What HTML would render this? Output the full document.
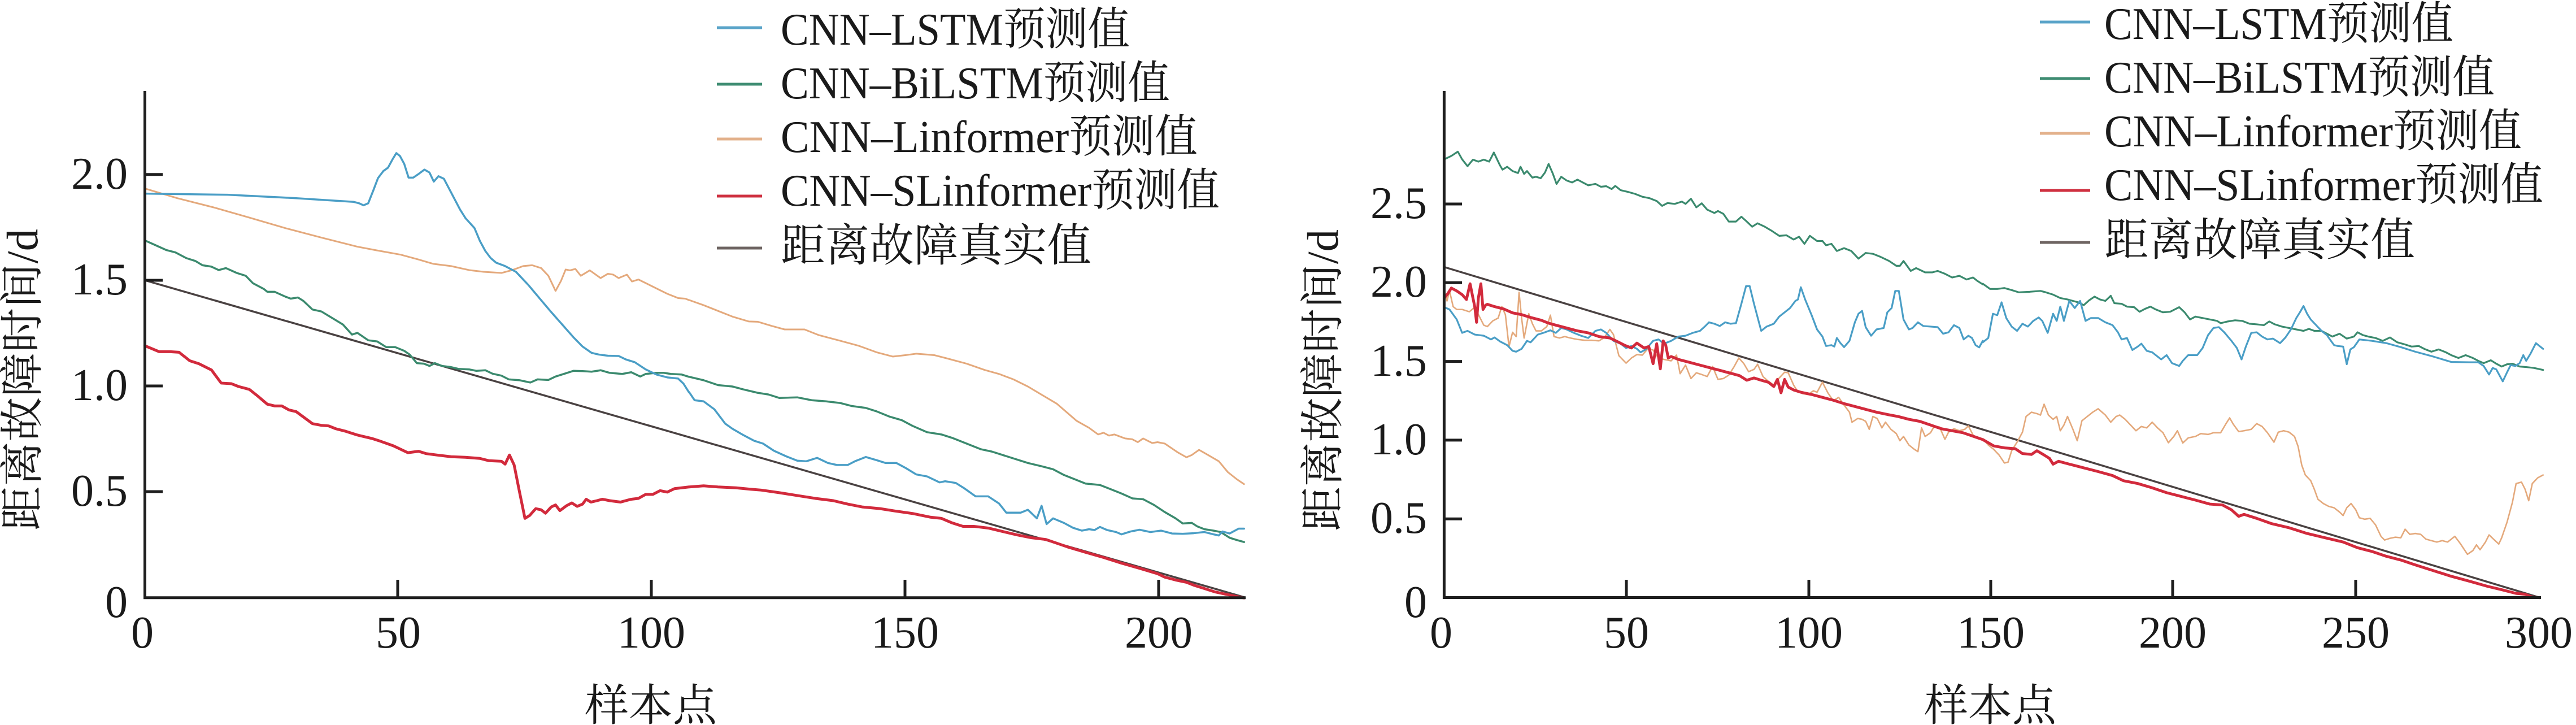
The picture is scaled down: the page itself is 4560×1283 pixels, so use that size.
<!DOCTYPE html>
<html>
<head>
<meta charset="utf-8">
<style>
html,body{margin:0;padding:0;background:#ffffff;}
svg{display:block;}
.t{font-family:"Liberation Serif","Noto Serif CJK SC",serif;fill:#1a1a1a;}
.num{font-size:80px;}
.lg{font-size:80px;}
.cj{font-family:"Liberation Serif","Noto Serif CJK SC",serif;font-size:78px;fill:#1a1a1a;}
.ax{stroke:#1e1e1e;stroke-width:5;fill:none;}
.s{fill:none;stroke-linejoin:round;stroke-linecap:round;}
</style>
</head>
<body>
<svg width="4560" height="1283" viewBox="0 0 4560 1283" xmlns="http://www.w3.org/2000/svg">
<rect x="0" y="0" width="4560" height="1283" fill="#ffffff"/>

<!-- ================= LEFT CHART ================= -->
<!-- true line -->
<line x1="256.5" y1="496" x2="2203" y2="1057" stroke="#4a4242" stroke-width="3.5"/>

<g transform="translate(250,280) scale(0.6378,0.505)">
<polyline class="s" vector-effect="non-scaling-stroke" stroke="#e4a97c" stroke-width="3" points="10,106 100,140 200,172 300,208 400,245 500,278 600,310 650,322 720,338 770,355 810,370 860,378 910,392 950,398 1000,402 1030,392 1060,378 1085,375 1110,385 1130,412 1150,465 1165,430 1178,390 1190,393 1205,388 1220,412 1245,393 1275,420 1295,405 1310,408 1325,420 1348,408 1362,432 1380,425 1420,450 1460,475 1490,490 1510,492 1520,497"/>
<polyline class="s" vector-effect="non-scaling-stroke" stroke="#3b8a6e" stroke-width="3.5" points="10,288 40,305 70,322 95,330 125,350 150,360 170,375 195,380 215,392 235,385 265,402 290,412 310,438 340,458 350,468 370,468 400,485 415,492 435,488 450,500 475,530 500,537 530,560 560,583 585,618 600,612 630,638 655,642 680,662 705,662 730,675 745,688 765,718 785,720 800,728 815,718 835,728 860,732 880,738 910,740 930,745 955,743 975,755 1000,762 1020,775 1050,778 1080,786 1100,775 1130,777 1150,765 1175,755 1200,745 1225,746 1250,748 1275,743 1300,752 1335,756 1360,750 1385,765 1400,756 1430,752 1450,752 1470,756 1500,758 1520,766"/>
<polyline class="s" vector-effect="non-scaling-stroke" stroke="#4a9ec6" stroke-width="3.5" points="10,124 240,128 430,140 590,153 605,158 617,165 630,158 645,110 657,70 672,45 685,33 697,5 708,-18 718,-8 730,20 742,68 755,68 770,55 786,40 800,50 812,82 825,63 840,72 860,120 885,180 900,210 925,245 940,290 955,325 970,350 985,366 1010,378 1040,398 1075,445 1105,490 1135,535 1170,585 1200,628 1225,660 1250,682 1270,688 1295,692 1325,693 1345,705 1370,715 1400,740 1430,758 1460,768 1490,772 1505,790 1520,820"/>
<polyline class="s" vector-effect="non-scaling-stroke" stroke="#d22a3c" stroke-width="5" points="10,657 50,678 80,678 105,680 135,710 160,720 195,742 222,788 250,790 270,800 300,810 320,830 350,862 370,868 390,868 410,882 430,888 475,930 500,936 520,938 540,948 565,956 600,970 640,982 660,990 700,1008 740,1032 770,1027 790,1035 820,1040 860,1046 900,1048 940,1052 965,1060 1000,1062 1010,1072 1022,1040 1035,1075 1050,1170 1065,1262 1078,1252 1095,1228 1110,1232 1122,1244 1138,1222 1150,1215 1162,1235 1180,1218 1195,1208 1210,1220 1225,1212 1235,1195 1248,1205 1265,1200 1280,1195 1300,1200 1330,1205 1360,1195 1380,1192 1400,1178 1420,1178 1440,1165 1460,1170 1480,1158 1500,1155 1520,1152"/>
</g>

<g transform="translate(1220,280) scale(0.6378,0.505)">
<polyline class="s" vector-effect="non-scaling-stroke" stroke="#e4a97c" stroke-width="3" points="0,497 40,515 80,535 120,555 165,572 190,573 230,588 265,600 320,600 360,620 420,640 470,657 520,680 565,695 600,690 630,685 680,690 720,703 770,720 820,742 860,756 900,775 940,800 980,830 1020,860 1075,920 1110,945 1135,968 1150,962 1165,972 1180,968 1210,982 1230,985 1245,995 1260,982 1285,998 1300,995 1320,1000 1355,1030 1380,1048 1395,1040 1415,1022 1440,1040 1470,1062 1495,1100 1520,1125 1540,1142"/>
<polyline class="s" vector-effect="non-scaling-stroke" stroke="#3b8a6e" stroke-width="3.5" points="0,766 40,778 80,795 120,800 150,810 190,822 220,828 250,840 300,838 340,848 380,852 420,858 450,868 490,875 520,887 555,905 590,918 620,938 660,960 700,968 730,980 770,1000 810,1020 840,1028 870,1040 900,1052 940,1068 980,1080 1010,1090 1040,1110 1070,1125 1100,1140 1140,1145 1170,1160 1200,1175 1230,1192 1260,1195 1290,1215 1320,1240 1350,1262 1370,1280 1395,1278 1410,1290 1430,1300 1455,1305 1475,1310 1500,1330 1520,1338 1540,1345"/>
<polyline class="s" vector-effect="non-scaling-stroke" stroke="#4a9ec6" stroke-width="3.5" points="0,820 15,848 40,852 70,880 100,930 120,948 150,970 180,990 205,1000 235,1025 270,1045 300,1060 325,1062 355,1050 385,1068 410,1075 440,1075 460,1062 490,1047 520,1058 545,1068 575,1068 600,1085 630,1108 660,1115 695,1136 710,1132 740,1138 765,1158 795,1185 830,1185 860,1210 880,1242 900,1242 920,1242 940,1232 965,1262 978,1218 992,1282 1010,1262 1040,1278 1065,1295 1090,1305 1110,1300 1125,1303 1140,1292 1160,1303 1185,1310 1200,1318 1225,1308 1250,1302 1280,1310 1310,1305 1340,1315 1370,1316 1400,1314 1430,1310 1455,1318 1470,1322 1480,1308 1500,1315 1525,1298 1540,1298"/>
<polyline class="s" vector-effect="non-scaling-stroke" stroke="#d22a3c" stroke-width="5" points="0,1152 40,1148 80,1152 130,1155 170,1160 200,1163 250,1172 300,1182 350,1192 400,1200 440,1212 480,1222 530,1228 570,1236 620,1245 670,1258 700,1262 730,1278 760,1290 790,1290 830,1296 870,1308 910,1320 950,1330 990,1336 1050,1362 1100,1381 1150,1399 1200,1419 1250,1437 1300,1456 1320,1468 1350,1478 1380,1486 1400,1496 1430,1508 1460,1520 1490,1528 1520,1536 1540,1541"/>
</g>

<!-- left axes -->
<line class="ax" x1="256.5" y1="161" x2="256.5" y2="1060"/>
<line class="ax" x1="254" y1="1057.7" x2="2205" y2="1057.7"/>
<g class="ax">
<line x1="256" y1="308.8" x2="288" y2="308.8"/>
<line x1="256" y1="496" x2="288" y2="496"/>
<line x1="256" y1="683" x2="288" y2="683"/>
<line x1="256" y1="870" x2="288" y2="870"/>
<line x1="704" y1="1057" x2="704" y2="1026"/>
<line x1="1153" y1="1057" x2="1153" y2="1026"/>
<line x1="1602" y1="1057" x2="1602" y2="1026"/>
<line x1="2051" y1="1057" x2="2051" y2="1026"/>
</g>
<g class="t num" text-anchor="end">
<text x="226" y="334">2.0</text>
<text x="226" y="521">1.5</text>
<text x="226" y="708">1.0</text>
<text x="226" y="895">0.5</text>
<text x="226" y="1092">0</text>
</g>
<g class="t num" text-anchor="middle">
<text x="252" y="1146">0</text>
<text x="705" y="1146">50</text>
<text x="1153" y="1146">100</text>
<text x="1602" y="1146">150</text>
<text x="2051" y="1146">200</text>
</g>
<text class="cj" text-anchor="middle" transform="translate(66,672) rotate(-90)" textLength="534" lengthAdjust="spacingAndGlyphs">距离故障时间/d</text>
<text class="cj" x="1152" y="1275" text-anchor="middle">样本点</text>

<!-- left legend -->
<g stroke-width="5">
<line x1="1269" y1="49" x2="1349" y2="49" stroke="#5aa4c9"/>
<line x1="1269" y1="149" x2="1349" y2="149" stroke="#3e8c72"/>
<line x1="1269" y1="246" x2="1349" y2="246" stroke="#e3b18b"/>
<line x1="1269" y1="347" x2="1349" y2="347" stroke="#cf3040"/>
<line x1="1269" y1="439" x2="1349" y2="439" stroke="#6e6462"/>
</g>
<g class="t lg">
<text x="1382" y="79" textLength="618" lengthAdjust="spacingAndGlyphs">CNN–LSTM预测值</text>
<text x="1382" y="174" textLength="689" lengthAdjust="spacingAndGlyphs">CNN–BiLSTM预测值</text>
<text x="1382" y="269" textLength="738" lengthAdjust="spacingAndGlyphs">CNN–Linformer预测值</text>
<text x="1382" y="364" textLength="777" lengthAdjust="spacingAndGlyphs">CNN–SLinformer预测值</text>
<text x="1382" y="462" textLength="550" lengthAdjust="spacingAndGlyphs">距离故障真实值</text>
</g>

<!-- ================= RIGHT CHART ================= -->
<line x1="2556.4" y1="472.5" x2="4494" y2="1057" stroke="#4a4242" stroke-width="3.5"/>

<g transform="translate(2550,280) scale(0.6378,0.505)">
<polyline class="s" vector-effect="non-scaling-stroke" stroke="#3b8a6e" stroke-width="3.2" points="10,4 30,-8 48,-23 60,4 75,28 90,5 105,12 120,5 135,12 148,-20 165,25 172,40 185,30 200,45 215,52 222,30 232,55 240,45 255,68 265,65 278,70 290,50 300,20 312,55 322,90 335,65 350,78 365,85 380,75 395,85 410,95 430,90 445,100 460,98 475,108 485,97 500,112 520,118 540,125 560,135 580,140 600,150 615,167 630,157 650,160 670,152 680,160 695,142 710,172 725,158 740,180 760,192 770,185 785,195 800,222 820,222 835,205 850,222 865,240 880,228 900,240 920,255 940,272 960,270 980,285 995,275 1010,300 1025,272 1045,290 1060,290 1070,305 1085,300 1100,325 1120,315 1140,325 1160,352 1180,332 1200,335 1220,345 1245,360 1265,377 1275,377 1285,360 1305,395 1320,385 1345,400 1365,400 1380,395 1400,405 1420,418 1440,412 1460,425 1478,418 1490,430 1505,442"/>
<polyline class="s" vector-effect="non-scaling-stroke" stroke="#e4a97c" stroke-width="2.6" points="10,462 18,500 25,465 35,520 45,530 60,530 80,538 95,522 110,560 120,585 130,590 145,570 160,560 170,520 180,548 190,660 200,610 210,625 218,470 225,560 232,630 245,545 255,580 265,605 280,605 295,590 305,550 315,625 330,630 345,625 360,630 380,635 400,638 420,638 440,640 455,628 470,600 480,618 495,692 515,718 530,700 545,688 560,690 575,668 590,672 605,700 620,705 640,710 655,690 665,755 680,725 695,772 710,752 725,758 740,765 755,730 770,775 785,772 800,760 815,730 828,700 842,720 855,748 870,740 880,722 895,765 910,782 925,795 940,770 955,750 965,752 980,795 990,815 1005,825 1020,828 1035,815 1045,820 1060,785 1075,822 1090,850 1105,838 1120,865 1135,890 1142,925 1158,912 1170,915 1180,922 1190,950 1200,905 1212,912 1225,945 1235,925 1250,950 1265,965 1275,990 1285,975 1300,1005 1315,1020 1325,1028 1335,945 1345,975 1360,962 1370,940 1385,942 1400,985 1410,960 1425,948 1440,955 1455,950 1465,938 1480,975 1500,985 1505,983"/>
<polyline class="s" vector-effect="non-scaling-stroke" stroke="#4a9ec6" stroke-width="3.2" points="10,522 25,530 45,565 60,612 75,605 95,618 120,622 140,635 150,628 165,642 185,655 200,675 210,678 225,668 240,640 250,645 270,618 290,610 305,603 320,612 335,595 350,600 370,612 390,622 410,630 430,605 445,600 460,612 480,640 500,650 515,665 530,658 545,668 555,680 570,670 590,640 605,635 620,650 640,640 660,625 680,622 700,612 720,605 735,588 745,575 760,580 775,588 790,575 805,580 820,578 835,510 848,448 858,448 870,510 890,605 905,590 925,580 940,555 955,540 970,525 985,500 992,495 1000,452 1012,495 1030,550 1045,600 1060,625 1070,658 1085,655 1093,660 1100,630 1110,648 1120,662 1135,640 1150,575 1160,545 1170,535 1180,592 1195,622 1210,600 1230,595 1240,540 1252,525 1262,465 1272,465 1285,565 1300,600 1310,595 1325,575 1340,588 1360,590 1380,592 1395,615 1410,610 1425,585 1440,595 1452,635 1465,622 1475,630 1485,655 1495,663 1505,640"/>
<polyline class="s" vector-effect="non-scaling-stroke" stroke="#d22a3c" stroke-width="5" points="10,490 20,475 30,455 45,465 60,478 72,495 82,440 90,490 95,520 100,575 105,490 112,440 118,530 125,515 130,512 150,520 175,528 200,542 225,548 250,558 280,568 300,578 320,585 350,595 380,605 410,612 440,625 470,630 490,642 510,655 530,665 545,648 565,665 578,660 590,720 600,650 610,738 618,640 625,655 632,700 640,695 660,705 690,715 720,725 750,735 780,745 810,755 830,762 850,778 870,770 890,778 910,785 925,800 935,775 945,822 955,775 965,802 980,812 1000,820 1030,828 1060,838 1090,848 1120,860 1150,870 1180,880 1210,890 1240,898 1270,905 1300,915 1330,922 1360,935 1390,948 1420,955 1450,962 1480,975 1505,986"/>
</g>

<g transform="translate(3510,280) scale(0.6378,0.505)">
<polyline class="s" vector-effect="non-scaling-stroke" stroke="#3b8a6e" stroke-width="3.2" points="0,440 20,458 40,458 60,455 80,462 100,470 130,468 160,465 175,470 195,478 215,490 235,495 250,500 265,505 280,515 295,498 310,485 325,495 340,500 355,482 365,508 385,510 400,520 420,522 435,538 450,528 465,520 480,530 500,540 520,538 545,522 560,540 575,565 590,555 610,560 630,565 650,570 660,578 680,572 700,568 720,570 740,580 760,582 780,585 795,572 810,582 830,590 850,595 870,600 890,605 905,598 920,605 940,605 955,615 970,625 990,615 1010,632 1030,625 1040,610 1055,620 1070,625 1090,630 1110,640 1130,628 1150,645 1170,652 1190,660 1210,658 1225,668 1245,678 1265,670 1285,680 1300,690 1320,700 1340,690 1360,700 1375,710 1390,718 1410,708 1425,720 1440,730 1455,722 1470,720 1490,730 1510,732 1530,735 1555,742"/>
<polyline class="s" vector-effect="non-scaling-stroke" stroke="#e4a97c" stroke-width="2.6" points="0,983 15,1005 30,1020 45,1040 60,1068 70,1065 80,1025 95,995 110,960 120,905 135,890 150,895 160,900 170,862 182,900 195,915 205,905 215,955 225,935 235,905 250,950 262,990 275,920 290,905 305,890 320,878 340,900 355,925 370,905 380,900 395,915 410,935 425,955 440,940 455,945 470,925 485,945 500,962 515,997 530,975 540,955 555,998 570,980 590,975 605,965 625,968 640,962 660,962 675,930 685,910 695,932 710,958 725,955 745,950 760,930 775,940 790,962 808,995 820,960 835,955 850,960 865,975 875,1010 885,1075 895,1110 910,1130 920,1160 930,1195 945,1210 960,1220 975,1225 990,1240 1000,1252 1010,1225 1022,1210 1035,1232 1045,1260 1060,1265 1075,1262 1090,1285 1105,1325 1115,1338 1130,1332 1145,1328 1160,1330 1172,1300 1185,1318 1200,1315 1215,1318 1230,1335 1245,1340 1260,1345 1275,1340 1290,1345 1310,1325 1325,1350 1345,1388 1360,1375 1370,1355 1380,1372 1395,1345 1405,1320 1420,1338 1432,1352 1440,1330 1455,1275 1470,1205 1480,1140 1495,1135 1505,1160 1515,1200 1525,1140 1540,1120 1555,1110"/>
<polyline class="s" vector-effect="non-scaling-stroke" stroke="#4a9ec6" stroke-width="3.2" points="0,645 15,630 28,545 40,550 52,505 65,560 80,590 95,605 110,580 125,590 140,570 155,558 165,570 180,612 195,545 205,570 215,520 225,570 240,500 255,525 270,500 285,570 300,560 320,560 340,575 360,585 375,610 385,635 400,630 415,672 430,660 440,650 455,675 470,680 480,690 495,705 510,690 525,718 545,728 555,710 570,690 595,690 610,665 625,620 640,595 655,592 670,610 690,640 705,665 718,705 730,660 745,612 760,610 775,625 790,635 805,632 825,648 840,628 855,600 870,560 880,540 890,518 900,545 910,565 925,585 940,605 955,620 965,638 975,655 985,658 1000,660 1010,722 1020,670 1030,662 1045,635 1080,640 1120,648 1160,662 1200,678 1250,695 1300,714 1350,715 1375,715 1390,728 1405,758 1415,735 1425,740 1443,782 1455,750 1465,725 1478,728 1490,718 1500,690 1508,710 1520,685 1535,648 1555,668"/>
<polyline class="s" vector-effect="non-scaling-stroke" stroke="#d22a3c" stroke-width="5" points="0,986 30,1008 60,1015 90,1018 110,1035 135,1038 150,1025 170,1040 185,1052 195,1072 210,1062 240,1072 280,1085 320,1098 360,1112 390,1130 430,1140 470,1155 510,1172 550,1185 590,1198 630,1212 665,1215 690,1232 710,1255 725,1248 760,1262 800,1280 850,1295 900,1315 950,1330 1000,1345 1040,1365 1080,1378 1120,1395 1160,1408 1200,1425 1250,1445 1300,1465 1350,1482 1400,1500 1440,1512 1480,1525 1505,1528 1525,1538 1545,1540"/>
</g>

<!-- right axes -->
<line class="ax" x1="2556.4" y1="161" x2="2556.4" y2="1060"/>
<line class="ax" x1="2554" y1="1057.5" x2="4498" y2="1057.5"/>
<g class="ax">
<line x1="2556" y1="361" x2="2588" y2="361"/>
<line x1="2556" y1="500.3" x2="2588" y2="500.3"/>
<line x1="2556" y1="639.6" x2="2588" y2="639.6"/>
<line x1="2556" y1="778.9" x2="2588" y2="778.9"/>
<line x1="2556" y1="918.2" x2="2588" y2="918.2"/>
<line x1="2879" y1="1057" x2="2879" y2="1026"/>
<line x1="3202" y1="1057" x2="3202" y2="1026"/>
<line x1="3524" y1="1057" x2="3524" y2="1026"/>
<line x1="3846" y1="1057" x2="3846" y2="1026"/>
<line x1="4170" y1="1057" x2="4170" y2="1026"/>
</g>
<g class="t num" text-anchor="end">
<text x="2526" y="386">2.5</text>
<text x="2526" y="525">2.0</text>
<text x="2526" y="665">1.5</text>
<text x="2526" y="804">1.0</text>
<text x="2526" y="943">0.5</text>
<text x="2526" y="1092">0</text>
</g>
<g class="t num" text-anchor="middle">
<text x="2551" y="1146">0</text>
<text x="2879" y="1146">50</text>
<text x="3202" y="1146">100</text>
<text x="3524" y="1146">150</text>
<text x="3846" y="1146">200</text>
<text x="4170" y="1146">250</text>
<text x="4494" y="1146">300</text>
</g>
<text class="cj" text-anchor="middle" transform="translate(2368,673) rotate(-90)" textLength="534" lengthAdjust="spacingAndGlyphs">距离故障时间/d</text>
<text class="cj" x="3523" y="1275" text-anchor="middle">样本点</text>

<!-- right legend -->
<g stroke-width="5">
<line x1="3611" y1="39" x2="3700" y2="39" stroke="#5aa4c9"/>
<line x1="3611" y1="139" x2="3700" y2="139" stroke="#3e8c72"/>
<line x1="3611" y1="236" x2="3700" y2="236" stroke="#e3b18b"/>
<line x1="3611" y1="337" x2="3700" y2="337" stroke="#cf3040"/>
<line x1="3611" y1="429" x2="3700" y2="429" stroke="#6e6462"/>
</g>
<g class="t lg">
<text x="3725" y="69" textLength="618" lengthAdjust="spacingAndGlyphs">CNN–LSTM预测值</text>
<text x="3725" y="164" textLength="691" lengthAdjust="spacingAndGlyphs">CNN–BiLSTM预测值</text>
<text x="3725" y="259" textLength="739" lengthAdjust="spacingAndGlyphs">CNN–Linformer预测值</text>
<text x="3725" y="354" textLength="777" lengthAdjust="spacingAndGlyphs">CNN–SLinformer预测值</text>
<text x="3725" y="452" textLength="550" lengthAdjust="spacingAndGlyphs">距离故障真实值</text>
</g>
</svg>
</body>
</html>
